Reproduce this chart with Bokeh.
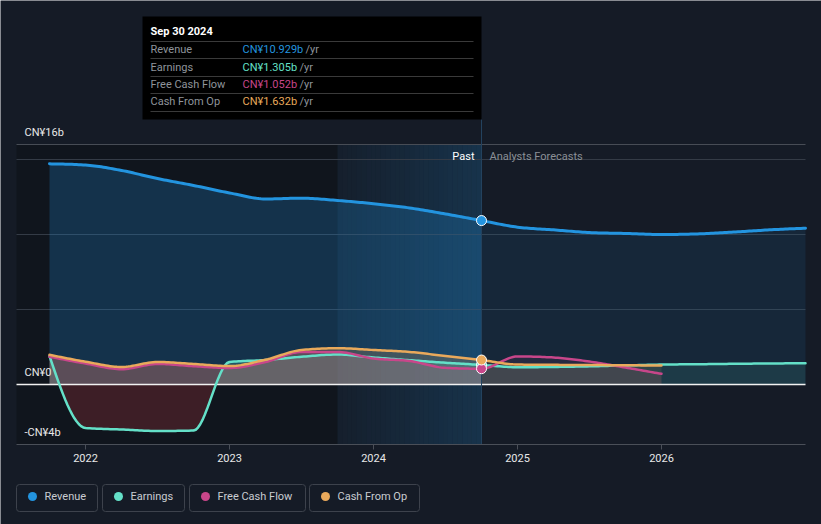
import numpy as np
from bokeh.plotting import figure
from bokeh.models import Range1d, LinearAxis, FixedTicker
from bokeh.core.properties import value
from bokeh.embed import file_html
from bokeh.resources import INLINE

# ---------------- data (CN¥ billions, trailing twelve months) ----------------
quarters = [2021.75, 2022.0, 2022.25, 2022.5, 2022.75, 2023.0, 2023.25, 2023.5,
            2023.75, 2024.0, 2024.25, 2024.5, 2024.75, 2025.0, 2025.25, 2025.5,
            2025.75, 2026.0, 2026.25, 2026.5, 2026.75, 2027.0]
revenue = [14.71, 14.63, 14.27, 13.73, 13.27, 12.77, 12.37, 12.42,
           12.27, 12.05, 11.77, 11.37, 10.929, 10.49, 10.31, 10.13,
           10.07, 10.0, 10.04, 10.16, 10.31, 10.42]
earnings = [1.9, -2.9, -3.0, -3.1, -3.07, 1.5, 1.63, 1.85,
            2.0, 1.8, 1.62, 1.45, 1.305, 1.15, 1.17, 1.21,
            1.27, 1.33, 1.35, 1.38, 1.40, 1.42]
cash_quarters = quarters[:18]
free_cash_flow = [1.85, 1.4, 1.02, 1.37, 1.22, 1.1, 1.5, 2.17,
                  2.17, 1.73, 1.57, 1.11, 1.052, 1.87, 1.8, 1.53,
                  1.13, 0.71]
cash_from_op = [1.98, 1.52, 1.17, 1.5, 1.37, 1.23, 1.65, 2.3,
                2.42, 2.3, 2.17, 1.9, 1.632, 1.33, 1.31, 1.3,
                1.28, 1.27]

past_end = 2024.75
highlight_start = 2023.75
x_ticks = [2022, 2023, 2024, 2025, 2026]
x_tick_labels = ["2022", "2023", "2024", "2025", "2026"]
y_label_values = [16, 0, -4]
y_labels = ["CN¥16b", "CN¥0", "-CN¥4b"]
y_grid = [5, 10, 15]
y_top = 16
y_bottom = -4

series_names = ["Revenue", "Earnings", "Free Cash Flow", "Cash From Op"]
series_colors = ["#2394df", "#64e0c8", "#c8468a", "#e9a95b"]
tooltip_date = "Sep 30 2024"
tooltip_values = ["CN¥10.929b", "CN¥1.305b", "CN¥1.052b", "CN¥1.632b"]

# ---------------- helpers ----------------
BG = "#151b26"
FONT = value("Roboto")


def px2x(px):
    return 2022 + (px - 85) / 144.0


def py2y(py):
    return (384 - py) / 15.0


def monotone_curve(xs, ys, n=16):
    xs = np.asarray(xs, float)
    ys = np.asarray(ys, float)
    h = np.diff(xs)
    s = np.diff(ys) / h
    m = np.zeros_like(ys)
    for i in range(1, len(xs) - 1):
        s0, s1, h0, h1 = s[i - 1], s[i], h[i - 1], h[i]
        p = (s0 * h1 + s1 * h0) / (h0 + h1)
        m[i] = (np.sign(s0) + np.sign(s1)) * min(abs(s0), abs(s1), 0.5 * abs(p))
    m[0] = (3 * s[0] - m[1]) / 2
    m[-1] = (3 * s[-1] - m[-2]) / 2
    ox, oy = [xs[0]], [ys[0]]
    t = np.linspace(0, 1, n + 1)[1:]
    for i in range(len(xs) - 1):
        hh = h[i]
        h00 = 2 * t**3 - 3 * t**2 + 1
        h10 = t**3 - 2 * t**2 + t
        h01 = -2 * t**3 + 3 * t**2
        h11 = t**3 - t**2
        ox.extend(xs[i] + t * hh)
        oy.extend(h00 * ys[i] + h10 * hh * m[i] + h01 * ys[i + 1] + h11 * hh * m[i + 1])
    return np.array(ox), np.array(oy)


W, H = 821, 524
plot_l, plot_r = px2x(16), px2x(805)
p = figure(width=W, height=H,
           x_range=Range1d(px2x(0), px2x(W)), y_range=Range1d(py2y(H), py2y(0)),
           output_backend="svg", toolbar_location=None,
           x_axis_type=None, y_axis_type=None,
           min_border_left=0, min_border_right=0, min_border_top=0, min_border_bottom=0,
           background_fill_color=BG, border_fill_color=BG, outline_line_color=None)

# darker past area and highlighted last year
p.quad(left=[plot_l], right=[highlight_start], bottom=[y_bottom], top=[y_top],
       fill_color="#000000", fill_alpha=0.22, line_color=None)
n_strips = 30
edges = np.linspace(highlight_start, past_end, n_strips + 1)
p.quad(left=edges[:-1], right=edges[1:], bottom=y_bottom, top=y_top,
       fill_color="#2394df", fill_alpha=list(np.linspace(0.04, 0.2, n_strips)),
       line_color=None)

# grid lines
p.segment(x0=plot_l, x1=plot_r, y0=y_grid, y1=y_grid, line_color="#343b46", line_width=1)
p.segment(x0=[plot_l], x1=[plot_r], y0=[y_top], y1=[y_top], line_color="#474c55", line_width=1)

# smoothed series
curves = [
    monotone_curve(quarters, revenue),
    monotone_curve(quarters, earnings),
    monotone_curve(cash_quarters, free_cash_flow),
    monotone_curve(cash_quarters, cash_from_op),
]


def split(xs, ys):
    k = int(np.argmin(np.abs(xs - past_end)))
    return (xs[:k + 1], ys[:k + 1]), (xs[k:], ys[k:])


# fills
for idx, (cx, cy) in enumerate(curves):
    col = series_colors[idx]
    (px_, py_), (fx_, fy_) = split(cx, cy)
    pa, fa = (0.24, 0.1) if idx == 0 else (0.2, 0.1)
    p.varea(x=px_, y1=0, y2=np.maximum(py_, 0), fill_color=col, fill_alpha=pa)
    p.varea(x=fx_, y1=0, y2=np.maximum(fy_, 0), fill_color=col, fill_alpha=fa)
    if idx == 1:
        p.varea(x=cx, y1=0, y2=np.minimum(cy, 0), fill_color="#e0404a", fill_alpha=0.22)

# zero line and "now" line
p.segment(x0=[plot_l], x1=[plot_r], y0=[0], y1=[0], line_color="#f2f2f2", line_width=1.5)
p.segment(x0=[past_end], x1=[past_end], y0=[y_bottom], y1=[py2y(119)],
          line_color="#23425e", line_width=1)

# lines
for idx, (cx, cy) in enumerate(curves):
    p.line(cx, cy, line_color=series_colors[idx], line_width=3 if idx == 0 else 2.5,
           line_cap="round", line_join="round")

# markers at the last reported date
k = quarters.index(past_end)
mk_vals = [revenue[k], earnings[k], free_cash_flow[k], cash_from_op[k]]
p.scatter(x=[past_end] * 4, y=mk_vals, size=10, fill_color=series_colors,
          line_color="white", line_width=1)

# x axis
xaxis = LinearAxis(fixed_location=y_bottom, ticker=FixedTicker(ticks=x_ticks),
                   bounds=(plot_l, plot_r),
                   major_label_overrides={t: l for t, l in zip(x_ticks, x_tick_labels)},
                   axis_line_color="#4a4f58", major_tick_line_color="#4a4f58",
                   major_tick_out=5, major_tick_in=0, minor_tick_line_color=None,
                   major_label_text_color="#e8e8e8", major_label_text_font="Roboto",
                   major_label_text_font_size="11px", major_label_standoff=4)
p.add_layout(xaxis, "below")

# y labels
p.text(x=[px2x(24)] * 3, y=y_label_values, text=y_labels, text_font=FONT,
       text_font_size="11px", text_color="#e8e8e8", text_align="left",
       text_baseline="middle", y_offset=-12)

# Past / Analysts Forecasts
p.text(x=[px2x(474)], y=[py2y(156)], text=["Past"], text_font=FONT, text_font_size="11px",
       text_color="#ffffff", text_align="right", text_baseline="middle")
p.text(x=[px2x(489)], y=[py2y(156)], text=["Analysts Forecasts"], text_font=FONT,
       text_font_size="11px", text_color="#8b9097", text_align="left", text_baseline="middle")

# tooltip box
p.quad(left=[px2x(142)], right=[px2x(481)], top=[py2y(16)], bottom=[py2y(119)],
       fill_color="#000000", line_color=None)
sep_y = [py2y(v) for v in (41, 58, 76, 93, 111)]
p.segment(x0=[px2x(150)] * 5, x1=[px2x(473)] * 5, y0=sep_y, y1=sep_y,
          line_color="#3a3a3a", line_width=1)
p.text(x=[px2x(150)], y=[py2y(31)], text=[tooltip_date], text_font=FONT,
       text_font_size="11px", text_color="#ffffff", text_font_style="bold",
       text_align="left", text_baseline="middle")
row_y = [py2y(v) for v in (49, 67, 84, 101)]
p.text(x=[px2x(150)] * 4, y=row_y, text=series_names, text_font=FONT,
       text_font_size="11px", text_color="#8f949b", text_align="left", text_baseline="middle")
p.text(x=[px2x(242)] * 4, y=row_y, text=tooltip_values, text_font=FONT,
       text_font_size="11px", text_color=series_colors, text_align="left",
       text_baseline="middle")
p.text(x=[px2x(v) for v in (305, 299, 299, 299)], y=row_y, text=["/yr"] * 4, text_font=FONT,
       text_font_size="11px", text_color="#8f949b", text_align="left", text_baseline="middle")

# legend
box_l = [16, 102, 189, 309]
box_r = [97, 184, 305, 419]
p.quad(left=[px2x(v) for v in box_l], right=[px2x(v) for v in box_r],
       top=py2y(484), bottom=py2y(511), fill_alpha=0, line_color="#3d424c", line_width=1,
       border_radius=3)
p.scatter(x=[px2x(v + 16) for v in box_l], y=[py2y(496)] * 4, size=9,
          fill_color=series_colors, line_color=None)
p.text(x=[px2x(v + 28) for v in box_l], y=[py2y(496)] * 4, text=series_names, text_font=FONT,
       text_font_size="11px", text_color="#c9ccd1", text_align="left", text_baseline="middle")

open("out.html", "w").write(file_html(p, INLINE))
